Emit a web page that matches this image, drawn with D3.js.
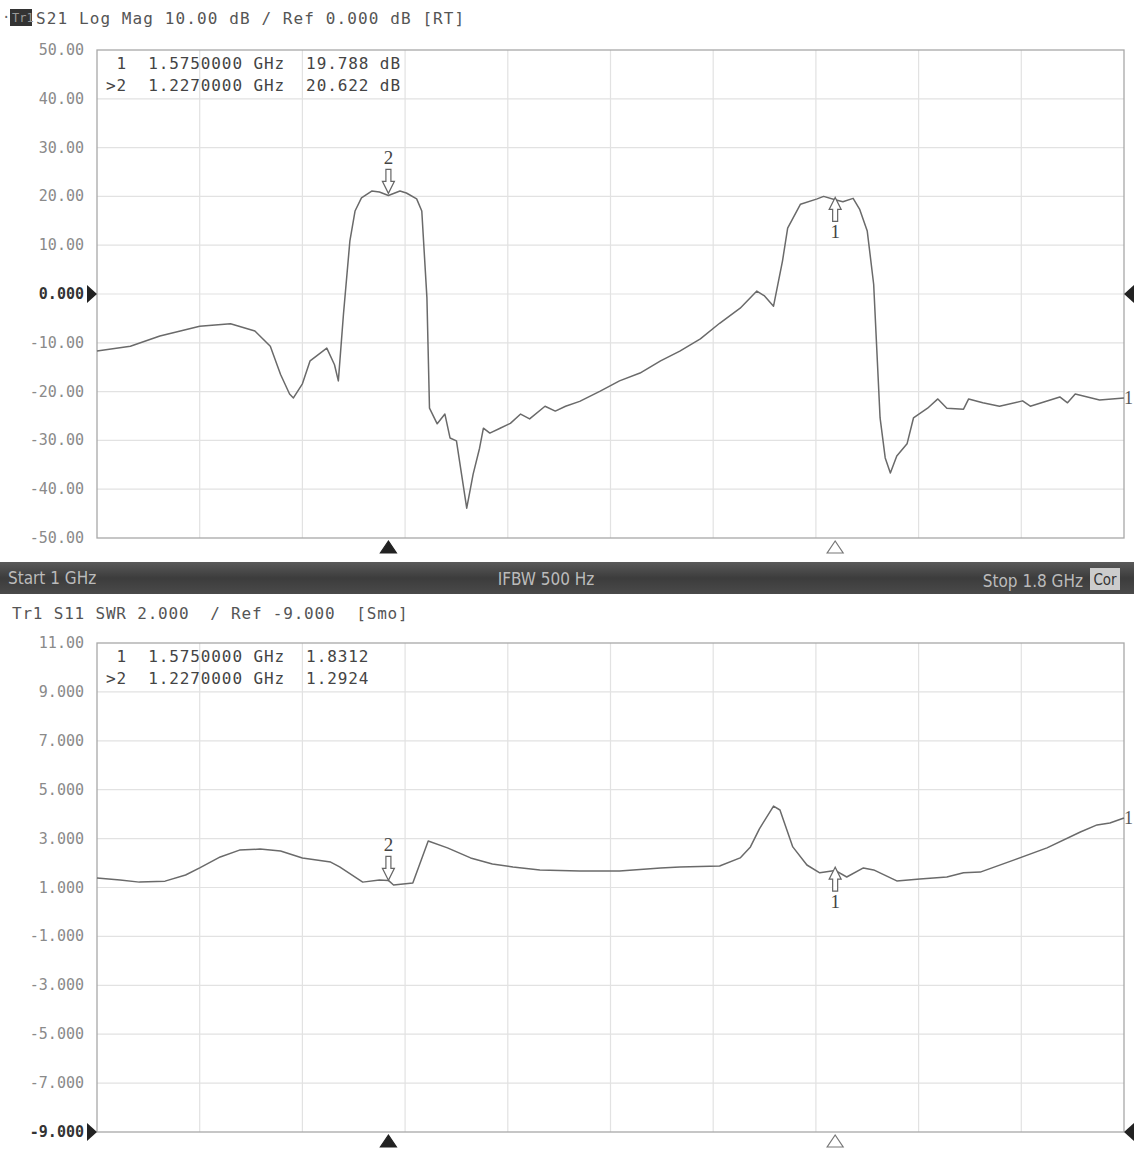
<!DOCTYPE html>
<html>
<head>
<meta charset="utf-8">
<script src="https://cdn.jsdelivr.net/npm/d3@7"></script>
<style>
  body { margin: 0; background: #fff; }
  svg { font-family: "DejaVu Sans Mono", "Liberation Mono", monospace; }
</style>
</head>
<body>
<svg id="chart" width="1134" height="1150"></svg>
<script>
// sweep
const startGHz = 1.0;
const stopGHz = 1.8;
const xDivisions = 10;

// S21 trace, [GHz, dB]
const s21Trace = [
  [1.000,-11.7],[1.026,-10.7],[1.049,-8.6],[1.080,-6.6],[1.104,-6.1],[1.123,-7.6],
  [1.135,-10.7],[1.143,-16.5],[1.150,-20.5],[1.153,-21.3],[1.160,-18.4],[1.166,-13.7],
  [1.179,-11.1],[1.185,-14.5],[1.188,-17.8],[1.192,-4.1],[1.197,10.9],[1.201,17.0],
  [1.206,19.7],[1.214,21.1],[1.220,20.9],[1.227,20.2],[1.236,21.1],[1.241,20.7],
  [1.249,19.5],[1.253,17.0],[1.257,-0.8],[1.259,-23.4],[1.265,-26.6],[1.271,-24.6],
  [1.275,-29.5],[1.280,-30.1],[1.288,-43.9],[1.293,-36.9],[1.298,-31.6],[1.301,-27.5],
  [1.306,-28.5],[1.314,-27.5],[1.322,-26.5],[1.330,-24.6],[1.337,-25.6],[1.349,-23.0],
  [1.357,-24.0],[1.365,-23.0],[1.376,-22.0],[1.392,-19.9],[1.407,-17.8],[1.423,-16.2],
  [1.439,-13.7],[1.454,-11.7],[1.470,-9.2],[1.485,-6.0],[1.501,-2.9],[1.514,0.6],
  [1.520,-0.4],[1.527,-2.5],[1.534,6.8],[1.538,13.5],[1.548,18.4],[1.561,19.5],
  [1.566,20.0],[1.575,19.3],[1.581,18.9],[1.589,19.6],[1.594,17.4],[1.600,12.9],
  [1.605,2.0],[1.610,-25.4],[1.614,-33.6],[1.618,-36.7],[1.623,-33.2],[1.631,-30.7],
  [1.636,-25.4],[1.647,-23.4],[1.655,-21.5],[1.662,-23.4],[1.675,-23.6],[1.679,-21.5],
  [1.690,-22.3],[1.703,-23.0],[1.721,-21.9],[1.727,-23.0],[1.750,-21.1],[1.756,-22.3],
  [1.762,-20.5],[1.781,-21.7],[1.800,-21.3]
];

// S11 trace, [GHz, SWR]
const s11Trace = [
  [1.000,1.39],[1.018,1.31],[1.033,1.22],[1.053,1.26],[1.069,1.51],[1.080,1.80],
  [1.096,2.25],[1.111,2.53],[1.127,2.57],[1.143,2.49],[1.160,2.21],[1.182,2.04],
  [1.189,1.84],[1.207,1.22],[1.220,1.31],[1.227,1.29],[1.231,1.10],[1.246,1.18],
  [1.258,2.90],[1.273,2.62],[1.291,2.21],[1.308,1.96],[1.324,1.84],[1.345,1.72],
  [1.376,1.67],[1.407,1.67],[1.439,1.80],[1.454,1.84],[1.485,1.88],[1.501,2.21],
  [1.509,2.66],[1.516,3.40],[1.527,4.33],[1.532,4.17],[1.542,2.66],[1.553,1.92],
  [1.563,1.60],[1.575,1.70],[1.584,1.43],[1.597,1.80],[1.605,1.72],[1.623,1.27],
  [1.641,1.35],[1.662,1.43],[1.675,1.60],[1.688,1.63],[1.714,2.12],[1.740,2.62],
  [1.766,3.27],[1.779,3.56],[1.789,3.64],[1.800,3.84]
];

// axes
const s21Ticks = [50,40,30,20,10,0,-10,-20,-30,-40,-50];
const s21TickLabels = ["50.00","40.00","30.00","20.00","10.00","0.000","-10.00","-20.00","-30.00","-40.00","-50.00"];
const s11Ticks = [11,9,7,5,3,1,-1,-3,-5,-7,-9];
const s11TickLabels = ["11.00","9.000","7.000","5.000","3.000","1.000","-1.000","-3.000","-5.000","-7.000","-9.000"];

// markers
const markerFreqs = [1.575, 1.227];
const s21MarkerVals = [19.788, 20.622];
const s11MarkerVals = [1.8312, 1.2924];
const s21MarkerText = [" 1  1.5750000 GHz  19.788 dB", ">2  1.2270000 GHz  20.622 dB"];
const s11MarkerText = [" 1  1.5750000 GHz  1.8312", ">2  1.2270000 GHz  1.2924"];

const svg = d3.select("#chart");
const x = d3.scaleLinear().domain([startGHz, stopGHz]).range([97, 1124]);

function drawPanel(o) {
  const y = d3.scaleLinear().domain(o.domain).range([o.bottom, o.top]);
  const g = svg.append("g");

  // grid
  g.append("g").selectAll("line").data(d3.range(1, xDivisions)).join("line")
    .attr("x1", i => x(startGHz + i * (stopGHz - startGHz) / xDivisions))
    .attr("x2", i => x(startGHz + i * (stopGHz - startGHz) / xDivisions))
    .attr("y1", o.top).attr("y2", o.bottom)
    .attr("stroke", "#e2e2e2").attr("stroke-width", 1.2);
  g.append("g").selectAll("line").data(o.ticks.slice(1, -1)).join("line")
    .attr("x1", x.range()[0]).attr("x2", x.range()[1])
    .attr("y1", d => y(d)).attr("y2", d => y(d))
    .attr("stroke", "#e2e2e2").attr("stroke-width", 1.2);

  g.append("rect")
    .attr("x", x.range()[0]).attr("y", o.top)
    .attr("width", x.range()[1] - x.range()[0]).attr("height", o.bottom - o.top)
    .attr("fill", "none").attr("stroke", "#a8a8a8").attr("stroke-width", 1.3);

  // tick labels
  g.append("g").selectAll("text").data(o.ticks).join("text")
    .attr("x", 84).attr("y", d => y(d) + 5)
    .attr("text-anchor", "end").attr("font-size", 15)
    .attr("fill", d => d === o.refVal ? "#333" : "#8a8a8a")
    .attr("font-weight", d => d === o.refVal ? "bold" : "normal")
    .text((d, i) => o.labels[i]);

  // reference arrows
  const ry = y(o.refVal);
  g.append("path").attr("d", `M87,${ry - 9}L97,${ry}L87,${ry + 9}Z`).attr("fill", "#222");
  g.append("path").attr("d", `M1134,${ry - 9}L1124,${ry}L1134,${ry + 9}Z`).attr("fill", "#222");

  // trace
  const line = d3.line().x(d => x(d[0])).y(d => y(d[1]));
  g.append("path").datum(o.trace).attr("d", line)
    .attr("fill", "none").attr("stroke", "#6a6a6a").attr("stroke-width", 1.5)
    .attr("stroke-linejoin", "round");

  g.append("text").attr("x", x(stopGHz)).attr("y", y(o.trace[o.trace.length - 1][1]) + 6)
    .attr("font-size", 18).attr("fill", "#555").style("font-family", "Liberation Serif")
    .text("1");

  // marker readout
  g.append("g").selectAll("text").data(o.markerText).join("text")
    .attr("x", 106).attr("y", (d, i) => o.top + 19 + i * 22)
    .attr("font-size", 16).attr("letter-spacing", 0.9).attr("fill", "#444")
    .attr("xml:space", "preserve").style("white-space", "pre")
    .text(d => d);

  // marker symbols on trace
  o.markerVals.forEach((v, i) => {
    const mx = x(markerFreqs[i]);
    const my = y(v);
    const up = o.markerBelow[i];
    const s = up ? 1 : -1;
    const m = g.append("g");
    m.append("path")
      .attr("d", `M${mx},${my}L${mx - 6},${my + s * 12}L${mx - 2.5},${my + s * 12}L${mx - 2.5},${my + s * 24}L${mx + 2.5},${my + s * 24}L${mx + 2.5},${my + s * 12}L${mx + 6},${my + s * 12}Z`)
      .attr("fill", "#fff").attr("stroke", "#666").attr("stroke-width", 1.2);
    m.append("text").attr("x", mx).attr("y", up ? my + 41 : my - 29)
      .attr("text-anchor", "middle").attr("font-size", 19).attr("fill", "#444")
      .style("font-family", "Liberation Serif")
      .text(i === 0 ? "1" : "2");

    // stimulus triangles under the grid
    const ty = o.bottom + 3;
    g.append("path").attr("d", `M${mx},${ty}L${mx - 8},${ty + 12}L${mx + 8},${ty + 12}Z`)
      .attr("fill", i === 1 ? "#222" : "#fff").attr("stroke", i === 1 ? "#222" : "#777")
      .attr("stroke-width", 1.2);
  });
}

// top header
svg.append("text").attr("x", 2).attr("y", 22).attr("font-size", 14).attr("fill", "#666").text("·");
svg.append("rect").attr("x", 10).attr("y", 9).attr("width", 22).attr("height", 17).attr("fill", "#333");
svg.append("text").attr("x", 12).attr("y", 22).attr("font-size", 12).attr("fill", "#999").text("Tr1");
svg.append("text").attr("x", 36).attr("y", 24).attr("font-size", 16).attr("letter-spacing", 1.1)
  .attr("fill", "#555")
  .attr("xml:space", "preserve").style("white-space", "pre")
  .text("S21 Log Mag 10.00 dB / Ref 0.000 dB [RT]");

drawPanel({
  top: 50, bottom: 538, domain: [-50, 50], ticks: s21Ticks, labels: s21TickLabels,
  refVal: 0, trace: s21Trace, markerVals: s21MarkerVals, markerText: s21MarkerText,
  markerBelow: [true, false]
});

// channel status bar
const bar = svg.append("g").style("font-family", "'DejaVu Sans Condensed', 'DejaVu Sans', sans-serif");
const grad = svg.append("defs").append("linearGradient").attr("id", "barGrad")
  .attr("x1", 0).attr("x2", 0).attr("y1", 0).attr("y2", 1);
grad.append("stop").attr("offset", 0).attr("stop-color", "#5a5a5a");
grad.append("stop").attr("offset", 0.5).attr("stop-color", "#3c3c3c");
grad.append("stop").attr("offset", 1).attr("stop-color", "#4a4a4a");
bar.append("rect").attr("x", 0).attr("y", 562).attr("width", 1134).attr("height", 32).attr("fill", "url(#barGrad)");
bar.append("text").attr("x", 8).attr("y", 584).attr("font-size", 17).attr("fill", "#bbb")
  .text("Start 1 GHz");
bar.append("text").attr("x", 546).attr("y", 585).attr("font-size", 17).attr("fill", "#bbb")
  .attr("text-anchor", "middle").text("IFBW 500 Hz");
bar.append("text").attr("x", 1083).attr("y", 587).attr("font-size", 17).attr("fill", "#bbb")
  .attr("text-anchor", "end").text("Stop 1.8 GHz");
bar.append("rect").attr("x", 1090).attr("y", 568).attr("width", 30).attr("height", 22).attr("fill", "#ccc");
bar.append("text").attr("x", 1105).attr("y", 585).attr("font-size", 15).attr("fill", "#333")
  .attr("text-anchor", "middle").text("Cor");

// bottom header
svg.append("text").attr("x", 12).attr("y", 619).attr("font-size", 16).attr("letter-spacing", 0.8)
  .attr("fill", "#555")
  .attr("xml:space", "preserve").style("white-space", "pre")
  .text("Tr1 S11 SWR 2.000  / Ref -9.000  [Smo]");

drawPanel({
  top: 643, bottom: 1132, domain: [-9, 11], ticks: s11Ticks, labels: s11TickLabels,
  refVal: -9, trace: s11Trace, markerVals: s11MarkerVals, markerText: s11MarkerText,
  markerBelow: [true, false]
});
</script>
</body>
</html>
